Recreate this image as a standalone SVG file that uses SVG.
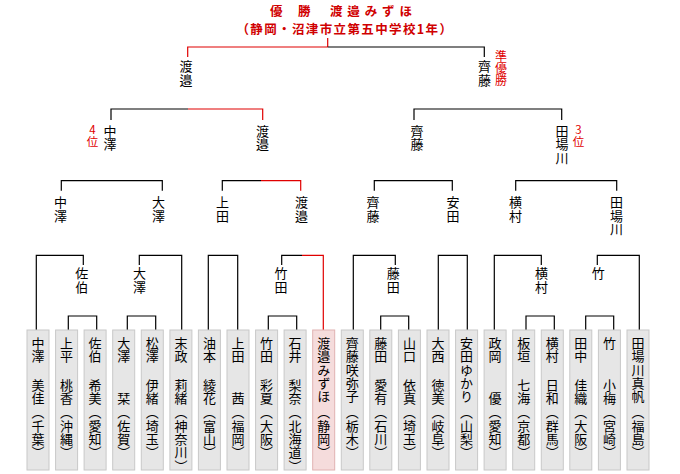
<svg xmlns="http://www.w3.org/2000/svg" width="680" height="474" viewBox="0 0 680 474">
<style>
.bg{fill:#fff}
.ln{fill:none;stroke:#000;stroke-width:1.2}
.rd{fill:none;stroke:#e00000;stroke-width:1.2}
.v{writing-mode:vertical-rl;font-family:"Noto Sans CJK JP","Noto Sans CJK SC",sans-serif;font-size:13px;letter-spacing:0.3px;fill:#000}
.rv{writing-mode:vertical-rl;font-family:"Noto Sans CJK JP",sans-serif;font-size:12px;fill:#e00000}
.ru{writing-mode:vertical-rl;text-orientation:upright;font-family:"Noto Sans CJK JP",sans-serif;font-size:11.5px;fill:#e00000}
.t{font-family:"Noto Sans CJK JP",sans-serif;font-size:12.5px;font-weight:bold;fill:#d00000}
.box{fill:#e6e6e6;stroke:#c8c8c8;stroke-width:1}
.wbox{fill:#f5dcdc;stroke:#e0b2b2;stroke-width:1}
</style>
<rect class="bg" x="0" y="0" width="680" height="474"/>
<g id="title">
<text class="t" x="270" y="16" textLength="40.5" lengthAdjust="spacing">優　勝</text>
<text class="t" x="330" y="16" textLength="82" lengthAdjust="spacing">渡邉みずほ</text>
<text class="t" x="236.5" y="33.5" textLength="215.5" lengthAdjust="spacing">（静岡・沼津市立第五中学校1年）</text>
</g>
<g id="connectors">
<path class="rd" d="M187.7,57V47H327.7M327.7,38V47"/>
<path class="ln" d="M327.7,47H484.3V57"/>
<path class="ln" d="M111,120V109H188"/>
<path class="rd" d="M188,109H262.7V120"/>
<path class="ln" d="M414,120V109H561.7V120"/>
<path class="ln" d="M61.3,190.7V180.7H162.3V190.7"/>
<path class="ln" d="M222.3,190.7V180.7H261"/>
<path class="rd" d="M261,180.7H300.7V190.7"/>
<path class="ln" d="M374.3,190.7V180.7H452.3V190.7"/>
<path class="ln" d="M515.7,190.7V180.7H616.7V190.7"/>
<path class="ln" d="M36.3,330V255.3H83.3V265"/>
<path class="ln" d="M139.3,265V255.3H181.7V330"/>
<path class="ln" d="M208.3,330V255.3H237.7V330"/>
<path class="ln" d="M281.7,265V255.3H302"/>
<path class="rd" d="M302,255.3H323.3V330"/>
<path class="ln" d="M353.3,330V255.3H395.3V265"/>
<path class="ln" d="M438.3,330V255.3H467.3V330"/>
<path class="ln" d="M494.3,330V255.3H541.3V265"/>
<path class="ln" d="M597.3,265V255.3H639.3V330"/>
<path class="ln" d="M68.3,330V316H96.7V330"/>
<path class="ln" d="M127.3,330V316H155.7V330"/>
<path class="ln" d="M268.3,330V316H296.7V330"/>
<path class="ln" d="M380.7,330V316H408.7V330"/>
<path class="ln" d="M526,330V316H554.3V330"/>
<path class="ln" d="M585.7,330V316H613.7V330"/>
</g>
<g id="labels">
<text class="v" x="186" y="60">渡邉</text>
<text class="v" x="484.5" y="60">齊藤</text>
<text class="rv" x="501" y="50.5">準優勝</text>
<text class="v" x="110" y="124.5">中澤</text>
<text class="ru" x="92.5" y="124">4位</text>
<text class="v" x="262.5" y="124.5">渡邉</text>
<text class="v" x="417" y="124.5">齊藤</text>
<text class="v" x="562" y="124.5">田場川</text>
<text class="ru" x="578.5" y="124">3位</text>
<text class="v" x="60.5" y="196">中澤</text>
<text class="v" x="158.5" y="196">大澤</text>
<text class="v" x="222.5" y="196">上田</text>
<text class="v" x="301.5" y="196">渡邉</text>
<text class="v" x="373" y="196">齊藤</text>
<text class="v" x="453" y="196">安田</text>
<text class="v" x="515.5" y="196">横村</text>
<text class="v" x="616.5" y="196">田場川</text>
<text class="v" x="81.7" y="267">佐伯</text>
<text class="v" x="139.5" y="267">大澤</text>
<text class="v" x="281" y="267">竹田</text>
<text class="v" x="393.3" y="267">藤田</text>
<text class="v" x="541.5" y="267">横村</text>
<text class="v" x="598.3" y="267">竹</text>
</g>
<g id="p0"><rect class="box" x="27" y="330" width="22" height="140"/><text class="v" x="38" y="336.5">中澤</text><text class="v" x="38" y="378.4">美佳</text><text class="v" x="38" y="406">（千葉）</text></g>
<g id="p1"><rect class="box" x="55.6" y="330" width="22" height="140"/><text class="v" x="66.6" y="336.5">上平</text><text class="v" x="66.6" y="378.4">桃香</text><text class="v" x="66.6" y="406">（沖縄）</text></g>
<g id="p2"><rect class="box" x="84.1" y="330" width="22" height="140"/><text class="v" x="95.1" y="336.5">佐伯</text><text class="v" x="95.1" y="378.4">希美</text><text class="v" x="95.1" y="406">（愛知）</text></g>
<g id="p3"><rect class="box" x="112.7" y="330" width="22" height="140"/><text class="v" x="123.7" y="336.5">大澤</text><text class="v" x="123.7" y="391.7">栞</text><text class="v" x="123.7" y="406">（佐賀）</text></g>
<g id="p4"><rect class="box" x="141.3" y="330" width="22" height="140"/><text class="v" x="152.3" y="336.5">松澤</text><text class="v" x="152.3" y="378.4">伊緒</text><text class="v" x="152.3" y="406">（埼玉）</text></g>
<g id="p5"><rect class="box" x="169.9" y="330" width="22" height="140"/><text class="v" x="180.9" y="336.5">末政</text><text class="v" x="180.9" y="378.4">莉緒</text><text class="v" x="180.9" y="406">（神奈川）</text></g>
<g id="p6"><rect class="box" x="198.4" y="330" width="22" height="140"/><text class="v" x="209.4" y="336.5">油本</text><text class="v" x="209.4" y="378.4">綾花</text><text class="v" x="209.4" y="406">（富山）</text></g>
<g id="p7"><rect class="box" x="227" y="330" width="22" height="140"/><text class="v" x="238" y="336.5">上田</text><text class="v" x="238" y="391.7">茜</text><text class="v" x="238" y="406">（福岡）</text></g>
<g id="p8"><rect class="box" x="255.6" y="330" width="22" height="140"/><text class="v" x="266.6" y="336.5">竹田</text><text class="v" x="266.6" y="378.4">彩夏</text><text class="v" x="266.6" y="406">（大阪）</text></g>
<g id="p9"><rect class="box" x="284.1" y="330" width="22" height="140"/><text class="v" x="295.1" y="336.5">石井</text><text class="v" x="295.1" y="378.4">梨奈</text><text class="v" x="295.1" y="406">（北海道）</text></g>
<g id="p10"><rect class="wbox" x="312.7" y="330" width="22" height="140"/><text class="v" x="323.7" y="336.5">渡邉みずほ</text><text class="v" x="323.7" y="406">（静岡）</text></g>
<g id="p11"><rect class="box" x="341.3" y="330" width="22" height="140"/><text class="v" x="352.3" y="336.5">齊藤咲弥子</text><text class="v" x="352.3" y="406">（栃木）</text></g>
<g id="p12"><rect class="box" x="369.8" y="330" width="22" height="140"/><text class="v" x="380.8" y="336.5">藤田</text><text class="v" x="380.8" y="378.4">愛有</text><text class="v" x="380.8" y="406">（石川）</text></g>
<g id="p13"><rect class="box" x="398.4" y="330" width="22" height="140"/><text class="v" x="409.4" y="336.5">山口</text><text class="v" x="409.4" y="378.4">依真</text><text class="v" x="409.4" y="406">（埼玉）</text></g>
<g id="p14"><rect class="box" x="427" y="330" width="22" height="140"/><text class="v" x="438" y="336.5">大西</text><text class="v" x="438" y="378.4">徳美</text><text class="v" x="438" y="406">（岐阜）</text></g>
<g id="p15"><rect class="box" x="455.6" y="330" width="22" height="140"/><text class="v" x="466.6" y="336.5">安田ゆかり</text><text class="v" x="466.6" y="406">（山梨）</text></g>
<g id="p16"><rect class="box" x="484.1" y="330" width="22" height="140"/><text class="v" x="495.1" y="336.5">政岡</text><text class="v" x="495.1" y="391.7">優</text><text class="v" x="495.1" y="406">（愛知）</text></g>
<g id="p17"><rect class="box" x="512.7" y="330" width="22" height="140"/><text class="v" x="523.7" y="336.5">板垣</text><text class="v" x="523.7" y="378.4">七海</text><text class="v" x="523.7" y="406">（京都）</text></g>
<g id="p18"><rect class="box" x="541.3" y="330" width="22" height="140"/><text class="v" x="552.3" y="336.5">横村</text><text class="v" x="552.3" y="378.4">日和</text><text class="v" x="552.3" y="406">（群馬）</text></g>
<g id="p19"><rect class="box" x="569.8" y="330" width="22" height="140"/><text class="v" x="580.8" y="336.5">田中</text><text class="v" x="580.8" y="378.4">佳織</text><text class="v" x="580.8" y="406">（大阪）</text></g>
<g id="p20"><rect class="box" x="598.4" y="330" width="22" height="140"/><text class="v" x="609.4" y="336.5">竹</text><text class="v" x="609.4" y="378.4">小梅</text><text class="v" x="609.4" y="406">（宮崎）</text></g>
<g id="p21"><rect class="box" x="627" y="330" width="22" height="140"/><text class="v" x="638" y="336.5">田場川真帆</text><text class="v" x="638" y="406">（福島）</text></g>
</svg>
